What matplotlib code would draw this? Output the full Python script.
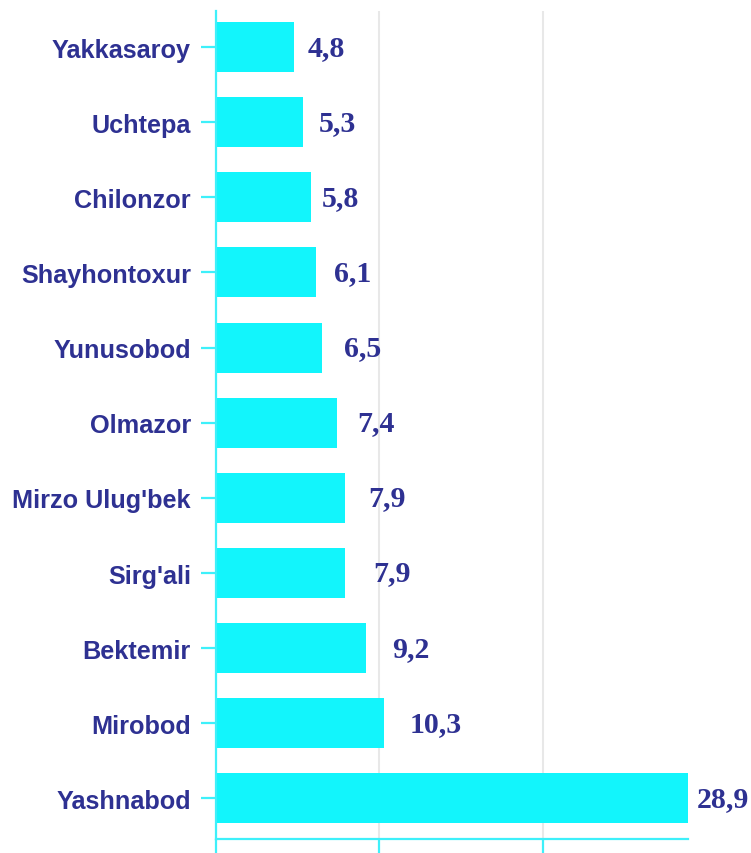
import numpy as np
import matplotlib
matplotlib.use('Agg')
import matplotlib.pyplot as plt
from matplotlib.transforms import offset_copy

# Tumanlar va qiymatlar (yuqoridan pastga)
tumanlar = ['Yakkasaroy', 'Uchtepa', 'Chilonzor', 'Shayhontoxur', 'Yunusobod',
            'Olmazor', "Mirzo Ulug'bek", "Sirg'ali", 'Bektemir', 'Mirobod', 'Yashnabod']
qiymatlar = [4.8, 5.3, 5.8, 6.1, 6.5, 7.4, 7.9, 7.9, 9.2, 10.3, 28.9]
yozuvlar = ['4,8', '5,3', '5,8', '6,1', '6,5', '7,4', '7,9', '7,9', '9,2', '10,3', '28,9']
x_ticks = [0, 10, 20]

# label offsets from bar end, in pixels (as placed in the original)
gap_px = [13, 16, 11, 18, 22, 20, 23, 28, 26, 25, 9]

bar_col = '#12F5FC'
ax_col = '#3EF0FA'
txt_col = '#2E3192'

fig = plt.figure(figsize=(7.51, 8.54), dpi=100)
ax = fig.add_axes([216/751, 14/854, (688-216)/751, (854-12-14)/854])

y = np.arange(len(tumanlar))
ax.barh(y, qiymatlar, height=0.665, color=bar_col, zorder=2)

ax.set_xlim(0, 28.9)
ax.set_ylim(len(tumanlar) - 1 + 0.54, -0.48)

ax.set_xticks(x_ticks)
ax.xaxis.grid(True, color='#E8E8E8', linewidth=1.5, zorder=0)
ax.set_axisbelow(True)
ax.tick_params(axis='x', direction='out', length=10, width=1.6, color=ax_col,
               labelbottom=False)

ax.set_yticks(y)
ax.set_yticklabels(tumanlar, fontfamily='Liberation Sans', fontweight='bold',
                   fontsize=18.2, color=txt_col)
ax.tick_params(axis='y', direction='out', length=11, width=1.6, color=ax_col, pad=7)

for s in ['top', 'right']:
    ax.spines[s].set_visible(False)
for s in ['left', 'bottom']:
    ax.spines[s].set_color(ax_col)
    ax.spines[s].set_linewidth(1.6)

for i in range(len(qiymatlar)):
    tr = offset_copy(ax.transData, fig=fig, x=gap_px[i], y=0, units='dots')
    ax.text(qiymatlar[i], y[i], yozuvlar[i], transform=tr, ha='left', va='center',
            fontfamily='Liberation Serif', fontweight='bold', fontsize=21.5,
            color=txt_col, clip_on=False)

fig.savefig('out.png', dpi=100)
